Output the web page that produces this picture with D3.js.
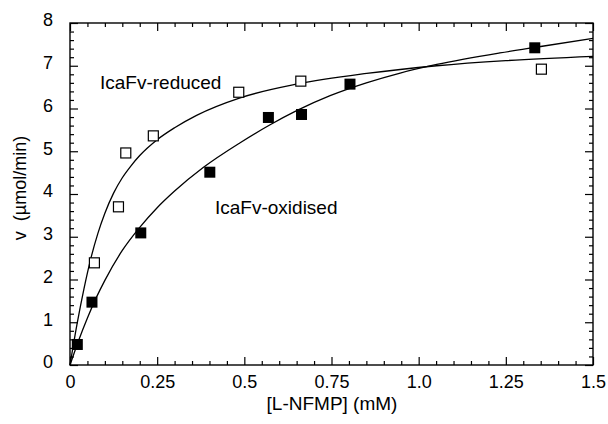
<!DOCTYPE html>
<html>
<head>
<meta charset="utf-8">
<script src="https://cdn.jsdelivr.net/npm/d3@7"></script>
<style>
  body { margin: 0; background: #fff; }
  text { font-family: "Liberation Sans", Arial, sans-serif; fill: #000; }
</style>
</head>
<body>
<div id="chart"></div>
<script>
// Measured points (open squares: reduced, filled squares: oxidised)
const reducedS = [0.070, 0.139, 0.160, 0.239, 0.484, 0.662, 1.352];
const reducedV = [2.39, 3.70, 4.96, 5.36, 6.38, 6.64, 6.92];
const oxidisedS = [0.021, 0.063, 0.203, 0.401, 0.569, 0.664, 0.803, 1.333];
const oxidisedV = [0.48, 1.47, 3.09, 4.51, 5.79, 5.86, 6.57, 7.42];

// Fitted curves, points
const reducedFitS = [0, 0.02, 0.04, 0.06, 0.08, 0.10, 0.125, 0.15, 0.175, 0.2, 0.25, 0.3, 0.363, 0.488, 0.65, 0.851, 1.052, 1.25, 1.5];
const reducedFitV = [0, 0.95, 1.78, 2.5, 3.08, 3.55, 4.02, 4.38, 4.66, 4.9, 5.27, 5.55, 5.84, 6.25, 6.57, 6.82, 7.0, 7.12, 7.22];
const oxidisedFitS = [0, 0.025, 0.05, 0.075, 0.1, 0.15, 0.2, 0.25, 0.3, 0.382, 0.488, 0.574, 0.65, 0.746, 0.85, 0.947, 1.052, 1.233, 1.35, 1.5];
const oxidisedFitV = [0, 0.58, 1.1, 1.57, 1.98, 2.68, 3.22, 3.68, 4.07, 4.62, 5.2, 5.62, 5.95, 6.3, 6.6, 6.83, 7.03, 7.3, 7.45, 7.64];

// Axis ticks
const xTicks = [0, 0.25, 0.5, 0.75, 1.0, 1.25, 1.5];
const xTickLabels = ["0", "0.25", "0.5", "0.75", "1.0", "1.25", "1.5"];
const yTicks = [0, 1, 2, 3, 4, 5, 6, 7, 8];

const W = 608, H = 424;
const mLeft = 70, mRight = 593, mTop = 23, mBottom = 365;

const svg = d3.select("#chart").append("svg")
    .attr("width", W)
    .attr("height", H);

const x = d3.scaleLinear().domain([0, 1.5]).range([mLeft, mRight]);
const y = d3.scaleLinear().domain([0, 8]).range([mBottom, mTop]);

const xMinor = d3.range(0, 31).map(i => i * 0.05).filter(v => !xTicks.some(t => Math.abs(t - v) < 1e-6));
const yMinor = d3.range(0, 41).map(i => i * 0.2).filter(v => Math.abs(v - Math.round(v)) > 1e-6);

const tickStroke = g => g.selectAll("line").attr("stroke", "#000").attr("stroke-width", 1.2);

// bottom
svg.append("g")
    .attr("transform", `translate(0,${mBottom})`)
    .call(d3.axisBottom(x).tickValues(xTicks).tickFormat((d, i) => xTickLabels[i])
        .tickSizeInner(-8).tickSizeOuter(0).tickPadding(10))
    .call(g => g.select(".domain").remove())
    .call(tickStroke)
    .call(g => g.selectAll("text").style("font-size", "18px"));
svg.append("g")
    .attr("transform", `translate(0,${mBottom})`)
    .call(d3.axisBottom(x).tickValues(xMinor).tickFormat("").tickSizeInner(-4).tickSizeOuter(0))
    .call(g => g.select(".domain").remove())
    .call(tickStroke);

// top
svg.append("g")
    .attr("transform", `translate(0,${mTop})`)
    .call(d3.axisTop(x).tickValues(xTicks).tickFormat("").tickSizeInner(-8).tickSizeOuter(0))
    .call(g => g.select(".domain").remove())
    .call(tickStroke);
svg.append("g")
    .attr("transform", `translate(0,${mTop})`)
    .call(d3.axisTop(x).tickValues(xMinor).tickFormat("").tickSizeInner(-4).tickSizeOuter(0))
    .call(g => g.select(".domain").remove())
    .call(tickStroke);

// left
svg.append("g")
    .attr("transform", `translate(${mLeft},0)`)
    .call(d3.axisLeft(y).tickValues(yTicks).tickFormat(d3.format("d"))
        .tickSizeInner(-8).tickSizeOuter(0).tickPadding(17))
    .call(g => g.select(".domain").remove())
    .call(tickStroke)
    .call(g => g.selectAll("text").style("font-size", "18px").attr("dy", "0.16em"));
svg.append("g")
    .attr("transform", `translate(${mLeft},0)`)
    .call(d3.axisLeft(y).tickValues(yMinor).tickFormat("").tickSizeInner(-4).tickSizeOuter(0))
    .call(g => g.select(".domain").remove())
    .call(tickStroke);

// right
svg.append("g")
    .attr("transform", `translate(${mRight},0)`)
    .call(d3.axisRight(y).tickValues(yTicks).tickFormat("").tickSizeInner(-8).tickSizeOuter(0))
    .call(g => g.select(".domain").remove())
    .call(tickStroke);
svg.append("g")
    .attr("transform", `translate(${mRight},0)`)
    .call(d3.axisRight(y).tickValues(yMinor).tickFormat("").tickSizeInner(-4).tickSizeOuter(0))
    .call(g => g.select(".domain").remove())
    .call(tickStroke);

// frame
svg.append("rect")
    .attr("x", mLeft).attr("y", mTop)
    .attr("width", mRight - mLeft).attr("height", mBottom - mTop)
    .attr("fill", "none").attr("stroke", "#000").attr("stroke-width", 1.4);

// fit curves
const line = d3.line()
    .x(d => x(d[0]))
    .y(d => y(d[1]))
    .curve(d3.curveMonotoneX);

svg.append("path")
    .datum(reducedFitS.map((s, i) => [s, reducedFitV[i]]))
    .attr("d", line)
    .attr("fill", "none").attr("stroke", "#000").attr("stroke-width", 1.3);

svg.append("path")
    .datum(oxidisedFitS.map((s, i) => [s, oxidisedFitV[i]]))
    .attr("d", line)
    .attr("fill", "none").attr("stroke", "#000").attr("stroke-width", 1.3);

// markers
const sq = 10;
svg.append("g").selectAll("rect")
    .data(reducedS.map((s, i) => [s, reducedV[i]]))
    .join("rect")
    .attr("x", d => x(d[0]) - sq / 2)
    .attr("y", d => y(d[1]) - sq / 2)
    .attr("width", sq).attr("height", sq)
    .attr("fill", "#fff").attr("stroke", "#000").attr("stroke-width", 1.2);

svg.append("g").selectAll("rect")
    .data(oxidisedS.map((s, i) => [s, oxidisedV[i]]))
    .join("rect")
    .attr("x", d => x(d[0]) - (sq + 1) / 2)
    .attr("y", d => y(d[1]) - (sq + 1) / 2)
    .attr("width", sq + 1).attr("height", sq + 1)
    .attr("fill", "#000");

// series labels
svg.append("text")
    .attr("x", 100).attr("y", 89)
    .style("font-size", "19px")
    .text("IcaFv-reduced");

svg.append("text")
    .attr("x", 215).attr("y", 214)
    .style("font-size", "19px")
    .text("IcaFv-oxidised");

// axis titles
svg.append("text")
    .attr("x", 332).attr("y", 410)
    .attr("text-anchor", "middle")
    .style("font-size", "19px")
    .text("[L-NFMP] (mM)");

svg.append("text")
    .attr("transform", "translate(26,188) rotate(-90)")
    .attr("text-anchor", "middle")
    .style("font-size", "18px")
    .style("white-space", "pre")
    .text("v  (\u00b5mol/min)");
</script>
</body>
</html>
